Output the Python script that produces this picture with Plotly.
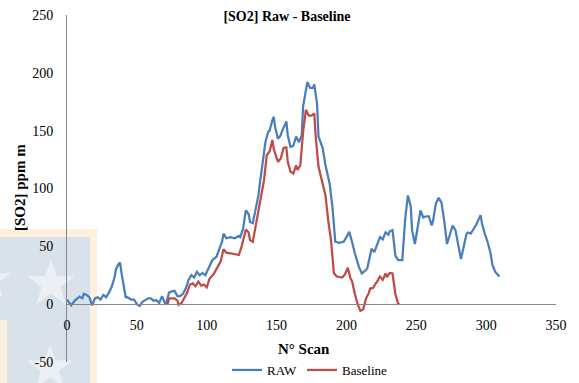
import math
import plotly.graph_objects as go

# ---------------- data ----------------
raw_scan = [0, 2, 3, 6, 8, 9, 11, 12, 14, 16, 18, 20, 22, 24, 26, 28, 30, 32, 34, 35,
            37, 38, 39, 41, 42, 43, 46, 48, 50, 52, 54, 56, 58, 60, 62, 64, 66, 68, 70, 71,
            73, 75, 77, 79, 81, 83, 85, 87, 89, 91, 93, 95, 97, 99, 102, 104, 107, 109, 111, 112,
            114, 117, 120, 123, 124, 126, 128, 130, 131, 133, 135, 137, 138, 140, 142, 144, 145, 147, 148, 149,
            151, 153, 154, 156, 157, 158, 160, 162, 164, 166, 168, 169, 171, 172, 174, 176, 177, 179, 180, 183,
            185, 188, 190, 191, 192, 195, 198, 200, 202, 204, 206, 209, 211, 213, 215, 216, 217, 218, 220, 222,
            224, 226, 228, 230, 231, 233, 235, 237, 240, 242, 244, 246, 247, 249, 251, 253, 255, 257, 259, 261,
            262, 264, 266, 268, 270, 272, 274, 276, 278, 280, 282, 284, 286, 287, 289, 291, 293, 296, 297, 299,
            301, 303, 304.5, 306.5, 309.5]
raw_val = [4, 0.5, -1, 3.5, 5, 6.5, 5, 9, 8, 6, -1, 5, 6, 4, 8, 6, 10, 15, 23, 30,
           35, 36, 27, 15, 6, 6, 4, 4, 0, -1.5, 2, 3.5, 5, 5, 3, 3.5, 1, 7, 1, 0.5,
           10, 11, 11.5, 7, 7, 9, 13.5, 21, 25, 23, 28, 25, 27, 25, 32, 38, 41, 47, 54, 61,
           57, 58, 57, 59, 58, 65, 81, 78, 71, 70, 82, 94, 104, 124, 140, 149, 150, 159, 162, 153,
           143, 146, 150, 155, 158, 146, 136, 137, 145, 140, 146, 171, 185, 192, 187, 187, 190, 173, 145, 135,
           120, 104, 84, 64, 54, 53, 54, 58, 62.5, 54, 44, 32, 26.5, 28.5, 31, 37, 42, 48, 45, 51,
           58, 56, 62, 60, 63, 64, 42, 38, 38, 73, 94, 85, 64, 52, 67, 81, 75, 76, 76, 68,
           72, 87, 92, 88, 72, 52, 60, 68, 64, 51, 39, 50, 61, 62, 61, 65, 69, 77, 70, 61,
           54, 45, 34, 28, 24]

base_scan = [72, 73, 75, 77, 79, 80, 82, 84, 86, 88, 90, 92, 94, 96, 98, 100, 102, 105, 108, 110,
             112, 114, 117, 120, 123, 125, 128, 130, 131, 133, 135, 137, 139, 141, 143, 145, 147, 148, 151, 153,
             155, 157, 158, 160, 162, 164, 165, 167, 169, 171, 173, 175, 177, 178, 180, 182, 185, 187, 189, 191,
             193, 195, 197, 199, 201, 203, 204, 206, 208, 210, 212, 214, 216, 217, 219, 221, 222, 224, 226, 228,
             229, 231, 233, 235, 237, 238]
base_val = [0, 5, 5, 5, 3, -0.5, 1, 5, 10, 17, 18, 15.5, 19.5, 16, 17, 14.5, 22, 26, 32, 37,
            47.5, 44.5, 44, 43.5, 42.5, 50, 64.5, 62, 55.5, 54, 68, 78.5, 93, 107, 129, 132, 142, 134, 123, 126,
            135, 135.5, 123, 114.5, 113, 120, 116, 120, 149, 168, 163, 163, 165, 145, 119, 109, 94, 72, 55, 27,
            24, 23.5, 23, 26, 31.5, 22, 20, 9, 0, -5.8, -4.5, 5, 9.5, 13.5, 14, 18, 19.5, 24, 21, 26.5,
            23.5, 27, 26.5, 9, 0.5, 0]

x_ticks = [0, 50, 100, 150, 200, 250, 300, 350]
y_ticks = [-50, 0, 50, 100, 150, 200, 250]

# ---------------- layout geometry ----------------
W, H = 579, 383
L, R, T, B = 67, 23, 15, 21
PW, PH = W - L - R, H - T - B
FONT = "Liberation Serif"


def pxx(px):
    return (px - L) / PW


def pxy(py):
    return (T + PH - py) / PH


def star_path(cx, cy, r_out):
    r_in = r_out * 0.40
    pts = []
    for i in range(10):
        ang = -math.pi / 2 + i * math.pi / 5
        rr = r_out if i % 2 == 0 else r_in
        pts.append((pxx(cx + rr * math.cos(ang)), pxy(cy + rr * math.sin(ang))))
    return "M " + " L ".join(f"{a:.5f},{b:.5f}" for a, b in pts) + " Z"


shapes = [
    dict(type="rect", xref="paper", yref="paper", x0=pxx(0), x1=pxx(97), y0=pxy(383), y1=pxy(229),
         fillcolor="#FDF1DE", line=dict(width=0), layer="below"),
    dict(type="rect", xref="paper", yref="paper", x0=pxx(0), x1=pxx(90), y0=pxy(383), y1=pxy(237),
         fillcolor="#D9E1EB", line=dict(width=0), layer="below"),
    dict(type="rect", xref="paper", yref="paper", x0=pxx(0), x1=pxx(7), y0=pxy(383), y1=pxy(320),
         fillcolor="#FBF0E0", line=dict(width=0), layer="below"),
]
for cx, cy, rr in [(51, 284, 25), (50, 368, 24), (-10, 280, 22)]:
    shapes.append(dict(type="path", xref="paper", yref="paper", path=star_path(cx, cy, rr),
                       fillcolor="#ECEFF3", line=dict(width=0), layer="below"))

fig = go.Figure()
fig.add_trace(go.Scatter(x=raw_scan, y=raw_val, mode="lines", name="RAW",
                         line=dict(color="#4A7EBB", width=2.25)))
fig.add_trace(go.Scatter(x=base_scan, y=base_val, mode="lines", name="Baseline",
                         line=dict(color="#BE4B48", width=2.25)))

fig.update_layout(
    template="none",
    width=W, height=H,
    margin=dict(l=L, r=R, t=T, b=B, pad=0, autoexpand=False),
    paper_bgcolor="white", plot_bgcolor="rgba(0,0,0,0)",
    font=dict(family=FONT, size=14, color="#000000"),
    title=dict(text="<b>[SO2] Raw - Baseline</b>", x=287 / W, xanchor="center", xref="container",
               y=1 - 16 / H, yanchor="middle", yref="container", font=dict(family=FONT, size=14)),
    xaxis=dict(range=[0, 350], tickvals=x_ticks, ticktext=[str(v) for v in x_ticks],
               showgrid=False, zeroline=False, showline=True, linecolor="#868686", linewidth=1,
               anchor="free", position=50 / 300, ticks="", ticklabelstandoff=8, automargin=False,
               tickfont=dict(family=FONT, size=14)),
    yaxis=dict(range=[-50, 250], tickvals=y_ticks, ticktext=[str(v) for v in y_ticks],
               showgrid=False, zeroline=False, showline=True, linecolor="#868686", linewidth=1,
               ticks="", ticklabelstandoff=10, automargin=False, tickfont=dict(family=FONT, size=14)),
    showlegend=True,
    legend=dict(orientation="h", xref="container", yref="container", x=310 / W, xanchor="center",
                y=1 - 370 / H, yanchor="middle",
                font=dict(family=FONT, size=13), bgcolor="rgba(0,0,0,0)", itemwidth=30),
    shapes=shapes,
    annotations=[
        dict(text="<b>N° Scan</b>", xref="paper", yref="paper", x=pxx(304), y=pxy(349),
             xanchor="center", yanchor="middle", showarrow=False, font=dict(family=FONT, size=15)),
        dict(text="<b>[SO2] ppm m</b>", xref="paper", yref="paper", x=pxx(20), y=pxy(188),
             xanchor="center", yanchor="middle", textangle=-90, showarrow=False,
             font=dict(family=FONT, size=15)),
    ],
)

fig.write_html("out.html", config={"displayModeBar": False},
               post_script="document.body.style.margin='0';document.body.style.overflow='hidden';")
